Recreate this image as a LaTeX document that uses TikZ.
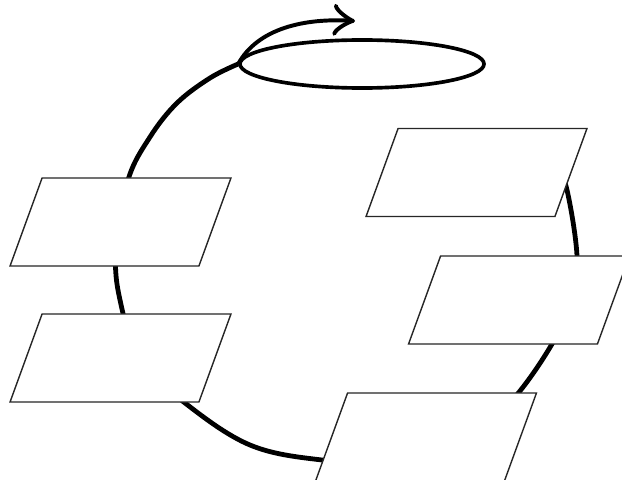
\documentclass[tikz,border=0pt]{standalone}
\usepackage{tikz}
\usetikzlibrary{shapes.geometric,arrows.meta}

\begin{document}
\begin{tikzpicture}[x=0.025cm,y=-0.025cm,
  stage/.style={trapezium,trapezium left angle=70,trapezium right angle=110,
    draw=black!85,line width=1pt,fill=white,text width=3.92cm,text height=2.2cm,text depth=0pt,inner sep=0pt},
  goalring/.style={ellipse,draw=black,line width=2.6pt,minimum width=6.1cm,minimum height=1.2cm,inner sep=0pt},
  cycle/.style={line width=3.4pt,black},
  loop/.style={line width=2.8pt,black,-{Classical TikZ Rightarrow[length=5.5mm,width=8mm,line width=2.8pt]}}]

\clip (0,0) rectangle (622,479);

% ---- goal on top
\node[goalring] (goal) at (362,64) {};
\coordinate (tip) at (355,21);

% ---- the cycle, drawn first so the boxes hide it
\draw[cycle] plot[smooth,tension=0.6] coordinates {(goal.west) (210,78) (177,103) (150,137) (128,180)
  (116,250) (120,300) (140,360) (185,403) (250,445) (322,460) (400,463) (470,440)
  (515,397) (552,344) (572,300) (577,256) (567,190) (555,160)};
\draw[loop] (goal.west) .. controls (258,28) and (305,18) .. (tip);

% ---- stages
\node[stage] (left1) at (120.5,222) {};
\node[stage] (left2) at (120.5,358) {};
\node[stage] (right1) at (476.5,172.5) {};
\node[stage] (right2) at (519,300) {};
\node[stage] (bottom) at (426,437) {};
\end{tikzpicture}
\end{document}
